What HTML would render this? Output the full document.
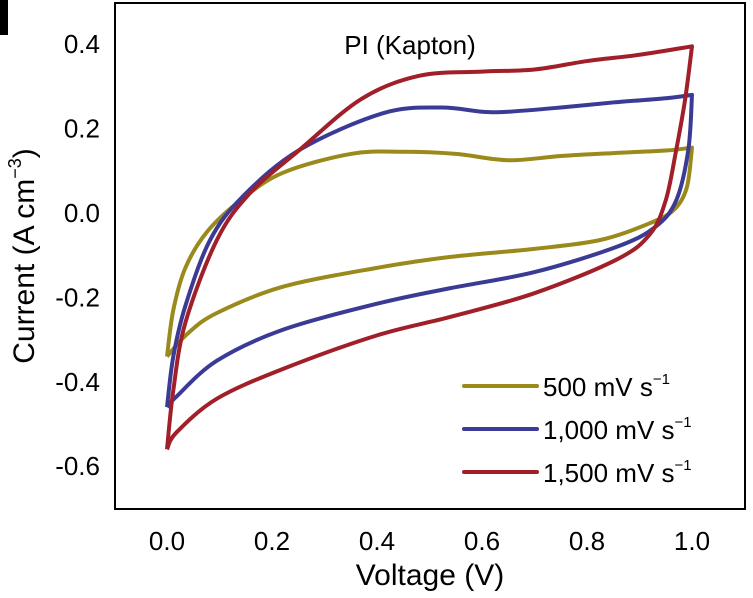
<!DOCTYPE html>
<html><head><meta charset="utf-8"><style>
body{margin:0;background:#fff;}
svg{display:block;font-family:"Liberation Sans",Arial,sans-serif;}
</style></head><body>
<svg id="chart" width="753" height="598">
<rect x="0" y="0" width="8" height="35" fill="#000"/>
<rect x="115" y="3" width="630" height="506" fill="none" stroke="#000" stroke-width="2"/>
<g id="curves"></g>
<g id="yticks"></g>
<g id="xticks"></g>
<text x="410" y="54" font-size="26" text-anchor="middle">PI (Kapton)</text>
<text transform="translate(34,256) rotate(-90)" font-size="30" text-anchor="middle">Current (A cm<tspan dy="-13" font-size="18">−3</tspan><tspan dy="13">)</tspan></text>
<text x="430" y="585" font-size="30" text-anchor="middle">Voltage (V)</text>
<g id="legend"></g>
</svg>
<script>
const xTicks=[0.0,0.2,0.4,0.6,0.8,1.0];
const xTickLabels=["0.0","0.2","0.4","0.6","0.8","1.0"];
const yTicks=[0.4,0.2,0.0,-0.2,-0.4,-0.6];
const yTickLabels=["0.4","0.2","0.0","-0.2","-0.4","-0.6"];
const seriesNames=["500 mV s","1,000 mV s","1,500 mV s"];
const seriesColors=["#9a8a1c","#3b3b96","#a11f29"];
// anodic (upper) branches, 0 -> 1 V
const vUp500=[0,0.012,0.035,0.076,0.14,0.22,0.35,0.45,0.55,0.65,0.75,0.85,0.95,1.0];
const iUp500=[-0.34,-0.23,-0.13,-0.045,0.03,0.095,0.14,0.145,0.14,0.125,0.135,0.142,0.148,0.155];
const vUp1000=[0,0.012,0.035,0.082,0.145,0.253,0.41,0.52,0.6,0.65,0.75,0.85,0.95,1.0];
const iUp1000=[-0.46,-0.34,-0.22,-0.064,0.04,0.15,0.236,0.25,0.24,0.24,0.25,0.262,0.272,0.28];
const vUp1500=[0,0.012,0.035,0.095,0.158,0.253,0.37,0.48,0.6,0.7,0.8,0.9,1.0];
const iUp1500=[-0.56,-0.42,-0.26,-0.064,0.047,0.15,0.27,0.325,0.335,0.34,0.36,0.375,0.395];
// cathodic (lower) branches, 1 -> 0 V
const vDn500=[1.0,0.99,0.965,0.92,0.825,0.7,0.54,0.4,0.22,0.095,0.04,0];
const iDn500=[0.155,0.06,0.007,-0.024,-0.064,-0.085,-0.104,-0.13,-0.175,-0.237,-0.285,-0.34];
const vDn1000=[1.0,0.993,0.97,0.93,0.857,0.7,0.54,0.4,0.22,0.095,0.018,0];
const iDn1000=[0.28,0.15,0.03,-0.033,-0.08,-0.14,-0.178,-0.215,-0.277,-0.35,-0.435,-0.46];
const vDn1500=[1.0,0.987,0.97,0.95,0.92,0.857,0.7,0.54,0.4,0.22,0.095,0.018,0];
const iDn1500=[0.395,0.27,0.15,0.03,-0.05,-0.11,-0.19,-0.246,-0.29,-0.37,-0.44,-0.52,-0.56];
const X0=167,XS=525,Y0=213,YS=422;
function xs(v){return X0+v*XS;}
function ys(v){return Y0-v*YS;}
const NS="http://www.w3.org/2000/svg";
function mk(t,a){const e=document.createElementNS(NS,t);for(const k in a)e.setAttribute(k,a[k]);return e;}
function smooth(vx,vy){const p=vx.map((v,j)=>[xs(v),ys(vy[j])]);let d='M'+p[0][0]+','+p[0][1];
for(let i=0;i<p.length-1;i++){const p0=p[i-1]||p[i],p1=p[i],p2=p[i+1],p3=p[i+2]||p2;
const c1=[p1[0]+(p2[0]-p0[0])/6,p1[1]+(p2[1]-p0[1])/6],c2=[p2[0]-(p3[0]-p1[0])/6,p2[1]-(p3[1]-p1[1])/6];
d+=' C'+c1.join(',')+' '+c2.join(',')+' '+p2.join(',');}return d;}
const yt=document.getElementById('yticks');
yTicks.forEach((v,i)=>{const t=mk('text',{x:100,y:ys(v)+9,'font-size':26,'text-anchor':'end'});t.textContent=yTickLabels[i];


yt.appendChild(t);});
const xt=document.getElementById('xticks');
xTicks.forEach((v,i)=>{const t=mk('text',{x:xs(v),y:550,'font-size':26,'text-anchor':'middle'});t.textContent=xTickLabels[i];


xt.appendChild(t);});
const series=[[vUp500,iUp500,vDn500,iDn500],[vUp1000,iUp1000,vDn1000,iDn1000],[vUp1500,iUp1500,vDn1500,iDn1500]];
const cg=document.getElementById('curves');
series.forEach((s,k)=>{const d=smooth(s[0],s[1])+' '+smooth(s[2],s[3]).replace(/^M[^ ]+/,'');
const p=mk('path',{d:d,fill:'none',stroke:seriesColors[k],'stroke-width':4,'stroke-linejoin':'round'});


cg.appendChild(p);});
const lg=document.getElementById('legend');
seriesNames.forEach((n,k)=>{const y=386+k*43;
const l=mk('line',{x1:464,x2:537,y1:y,y2:y,stroke:seriesColors[k],'stroke-width':4,'stroke-linecap':'round'});


lg.appendChild(l);
const t=mk('text',{x:543,y:y+10,'font-size':26});t.textContent=n;
const sp=mk('tspan',{dy:-12,'font-size':15});sp.textContent='−1';t.appendChild(sp);


lg.appendChild(t);});
</script>
</body></html>
